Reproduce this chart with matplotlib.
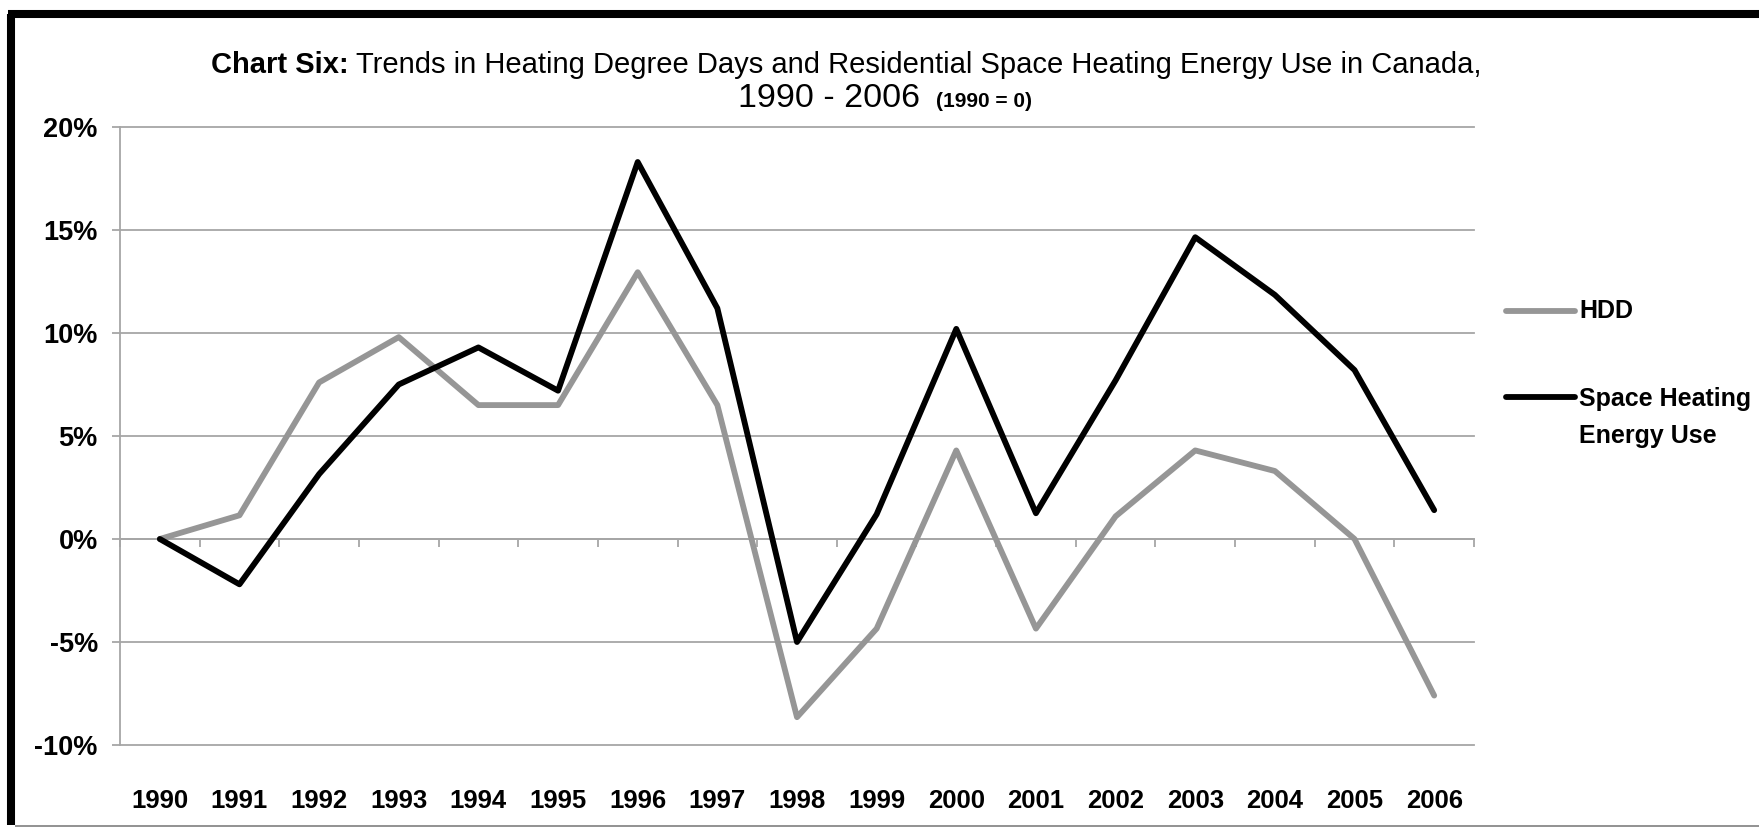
import matplotlib.pyplot as plt
from matplotlib.lines import Line2D

# datos (porcentaje respecto a 1990)
years = ['1990', '1991', '1992', '1993', '1994', '1995', '1996', '1997', '1998',
         '1999', '2000', '2001', '2002', '2003', '2004', '2005', '2006']
hdd = [0, 1.15, 7.6, 9.8, 6.5, 6.5, 12.95, 6.5, -8.65,
       -4.35, 4.3, -4.35, 1.1, 4.3, 3.3, 0, -7.6]
space = [0, -2.2, 3.15, 7.5, 9.3, 7.2, 18.3, 11.2, -5.0,
         1.2, 10.2, 1.25, 7.7, 14.65, 11.85, 8.2, 1.4]
yticks = [-10, -5, 0, 5, 10, 15, 20]
legend_labels = ['HDD', 'Space Heating', 'Energy Use']

W, H = 1762, 827
FONT = ['Liberation Sans', 'DejaVu Sans']
GRAY = '#969696'
GRID = '#a6a6a6'

fig = plt.figure(figsize=(W / 100, H / 100), dpi=100)
ax = fig.add_axes([120 / W, 1 - 745 / H, (1474 - 120) / W, (745 - 127) / H])

x = list(range(len(years)))
ax.plot(x, hdd, color=GRAY, lw=4.2, solid_capstyle='round', zorder=3)
ax.plot(x, space, color='black', lw=4.2, solid_capstyle='round', zorder=4)

ax.set_xlim(-0.5, len(years) - 0.5)
ax.set_ylim(-10, 20)
ax.set_yticks(yticks)
ax.set_yticklabels([f'{t}%' for t in yticks], family=FONT, weight='bold', fontsize=19.5)
ax.tick_params(axis='y', length=6, width=1.3, color=GRID, pad=10)
ax.grid(axis='y', color=GRID, lw=1.3)
for g in ax.yaxis.get_gridlines():
    g.set_clip_on(False)
ax.set_axisbelow(True)

for s in ['top', 'right']:
    ax.spines[s].set_visible(False)
ax.spines['left'].set_color(GRID)
ax.spines['left'].set_linewidth(1.3)
ax.spines['bottom'].set_position(('data', 0))
ax.spines['bottom'].set_color(GRID)
ax.spines['bottom'].set_linewidth(1.3)

# eje x: marcas entre categorias sobre la linea del 0%
ax.set_xticks(x)
ax.set_xticklabels([])
ax.tick_params(axis='x', which='major', length=0)
ax.set_xticks([i - 0.5 for i in range(len(years) + 1)], minor=True)
ax.tick_params(axis='x', which='minor', length=6, width=1.3, color=GRID)

# etiquetas de los años abajo del grafico
sec = ax.secondary_xaxis(0)
sec.set_xticks(x)
sec.set_xticklabels(years, family=FONT, weight='bold', fontsize=18.5)
sec.tick_params(length=0, pad=32)
sec.spines['bottom'].set_visible(False)

# leyenda hecha a mano
fig.add_artist(Line2D([1506 / W, 1575 / W], [1 - 311 / H] * 2, color=GRAY, lw=4.2,
                      solid_capstyle='round'))
fig.add_artist(Line2D([1506 / W, 1575 / W], [1 - 397 / H] * 2, color='black', lw=4.2,
                      solid_capstyle='round'))
fig.text(1579 / W, 1 - 311 / H, legend_labels[0], family=FONT, weight='bold',
         fontsize=18, va='center')
fig.text(1579 / W, 1 - 399 / H, legend_labels[1], family=FONT, weight='bold',
         fontsize=18, va='center')
fig.text(1579 / W, 1 - 436 / H, legend_labels[2], family=FONT, weight='bold',
         fontsize=18, va='center')


# titulo con partes en negrita y normal
def segmentos(partes, xc, y_base, gap):
    textos = []
    for s, peso, tam in partes:
        textos.append(fig.text(0, 1 - y_base / H, s, family=FONT, weight=peso,
                               fontsize=tam, va='baseline'))
    fig.canvas.draw()
    r = fig.canvas.get_renderer()
    anchos = [t.get_window_extent(r).width for t in textos]
    total = sum(anchos) + gap * (len(anchos) - 1)
    x0 = xc - total / 2
    for t, w in zip(textos, anchos):
        t.set_x(x0 / W)
        x0 += w + gap


segmentos([('Chart Six:', 'bold', 21),
           ('Trends in Heating Degree Days and Residential Space Heating Energy Use in Canada,',
            'normal', 21)], 846, 73, 7)
segmentos([('1990 - 2006', 'normal', 24.5), ('(1990 = 0)', 'bold', 15)], 885, 107, 16)

# marco (solo se ven el borde izquierdo y el superior)
fig.add_artist(Line2D([11 / W, 11 / W], [2 / H, 1 - 14 / H], color='black', lw=5.8,
                      solid_capstyle='butt'))
fig.add_artist(Line2D([8 / W, 1 - 3 / W], [1 - 14 / H] * 2, color='black', lw=5.8,
                      solid_capstyle='butt'))
fig.add_artist(Line2D([15 / W, 1 - 3 / W], [1.5 / H] * 2, color='#7f7f7f', lw=1.2,
                      solid_capstyle='butt'))

fig.savefig('out.png', dpi=100)
